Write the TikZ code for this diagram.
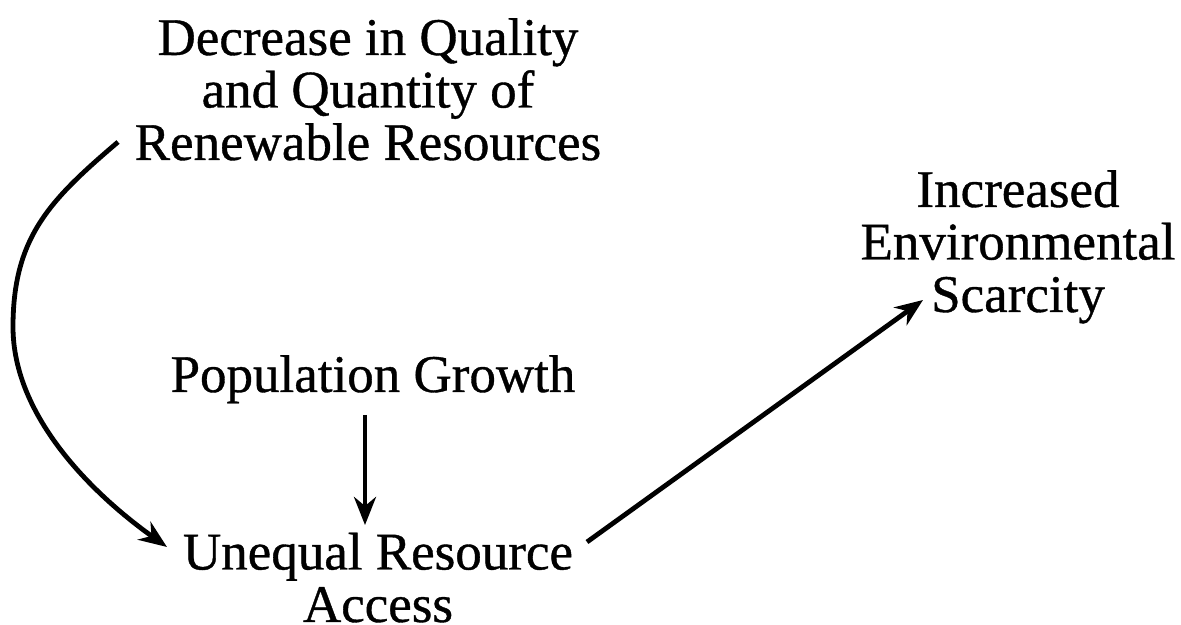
\documentclass[tikz,border=0pt]{standalone}
\usepackage{fontspec}
\setmainfont{Liberation Serif}[FakeBold=0.7]
\usetikzlibrary{arrows.meta}
\begin{document}
\begin{tikzpicture}[x=1pt,y=1pt,
  lbl/.style={inner sep=0pt, align=center, font=\fontsize{53}{52.5}\selectfont, anchor=base},
  conn/.style={line width=4.8pt, -{Stealth[length=28pt,width=22pt,inset=9pt]}}]
\useasboundingbox (0,0) rectangle (1181,624);
\node[lbl] (dec) at (368,464) {Decrease in Quality\\and Quantity of\\Renewable Resources};
\node[lbl] (pop) at (373,232) {Population Growth};
\node[lbl] (uneq) at (378,2) {Unequal Resource\\Access};
\node[lbl] (scar) at (1018,312) {Increased\\Environmental\\Scarcity};
\coordinate (c1s) at (118,482);
\coordinate (c1m) at (13,297);
\coordinate (c1e) at (167,77);
\coordinate (v1s) at (365,209);
\coordinate (v1e) at (365,99);
\coordinate (d1s) at (587,82);
\coordinate (d1e) at (923,324);
\draw[conn] (c1s) .. controls (50,424) and (13,387) .. (c1m)
  .. controls (13,207) and (94,129) .. (c1e);
\draw[conn] (v1s) -- (v1e);
\draw[conn] (d1s) -- (d1e);
\end{tikzpicture}
\end{document}
